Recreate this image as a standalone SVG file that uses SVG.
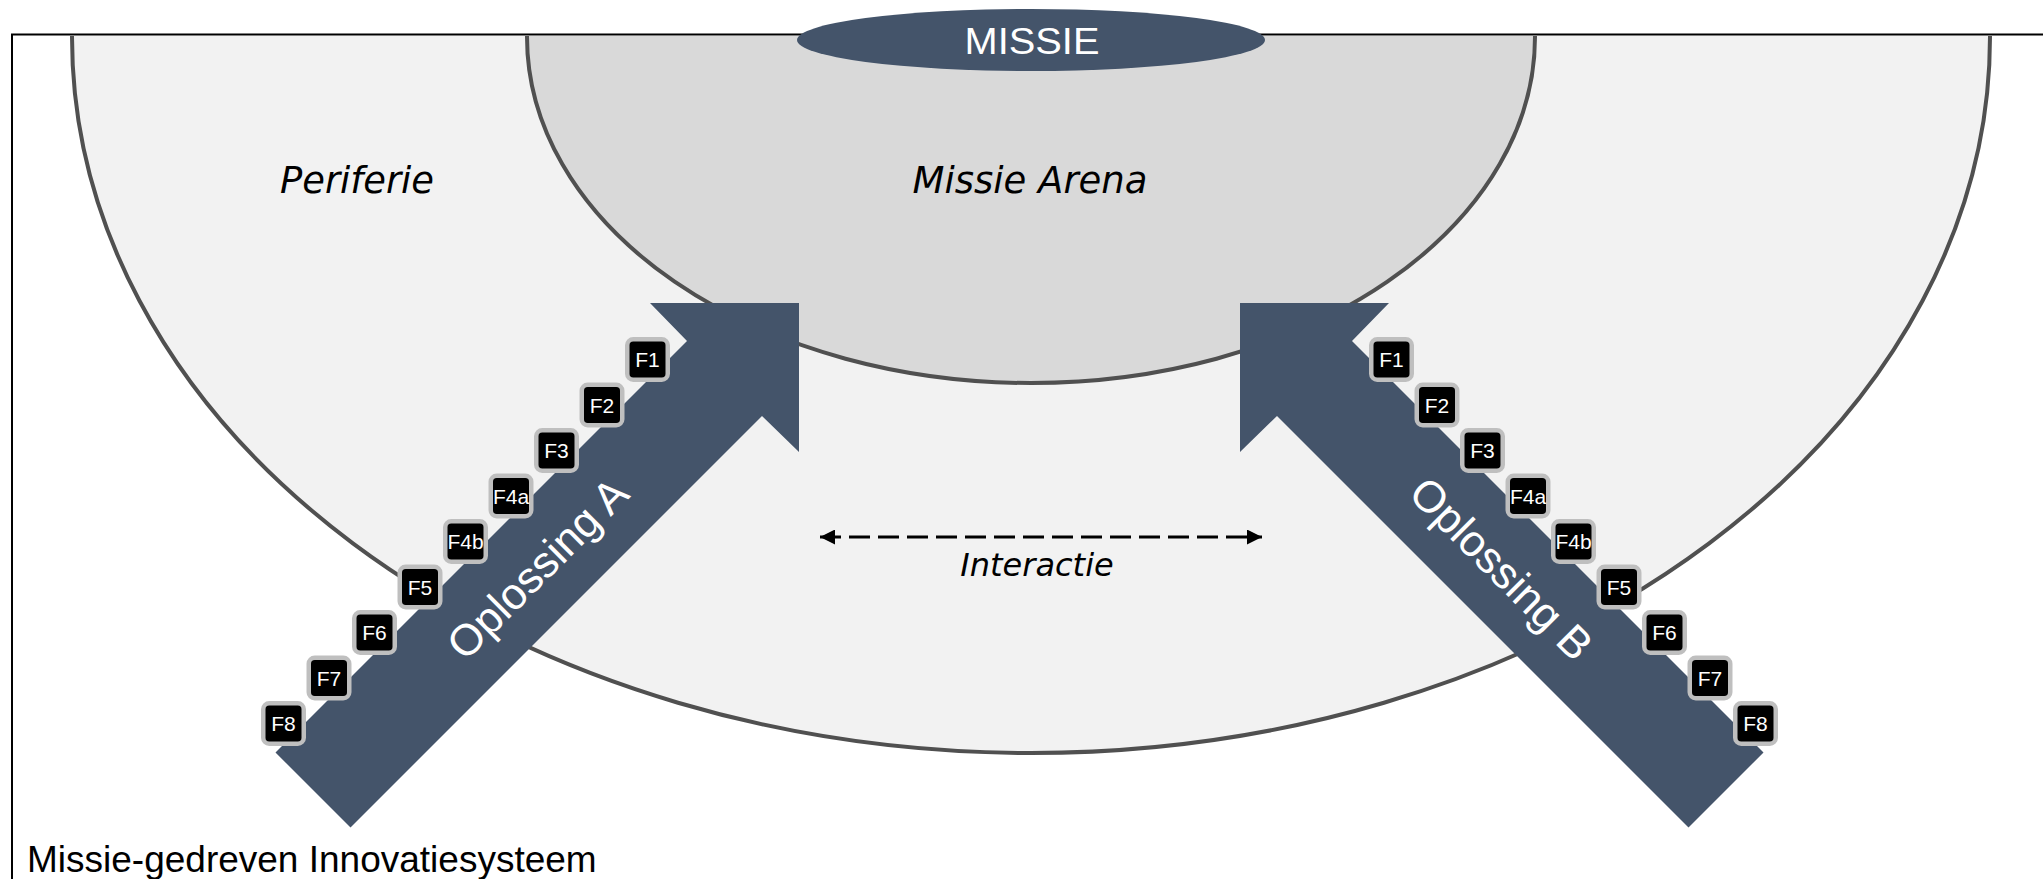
<svg xmlns="http://www.w3.org/2000/svg" width="2043" height="879" viewBox="0 0 2043 879">
  <defs>
    <clipPath id="belowTop">
      <rect x="0" y="36" width="2043" height="843"/>
    </clipPath>
    <marker id="ah" viewBox="0 0 15 15" refX="15" refY="7.5" markerWidth="15" markerHeight="15" markerUnits="userSpaceOnUse" orient="auto-start-reverse">
      <path d="M0,0 L15,7.5 L0,15 Z" fill="#000"/>
    </marker>
  </defs>
  <style>
    .ring { stroke: #505050; stroke-width: 4; }
    .arrow { fill: #44546a; }
    .fbox rect { fill: #000; stroke: #bfbfbf; stroke-width: 4.5; }
    .fbox text { fill: #fff; font-family: "Liberation Sans", Arial, sans-serif; font-size: 21px; text-anchor: middle; }
    .zone { font-family: "DejaVu Sans Condensed", "DejaVu Sans", sans-serif; font-style: italic; font-size: 38px; fill: #000; text-anchor: middle; }
    .sol { font-family: "Liberation Sans", Arial, sans-serif; font-size: 44px; fill: #fff; text-anchor: middle; }
  </style>
  <rect width="2043" height="879" fill="#fff"/>

  <g id="frame">
    <rect x="12" y="34.5" width="2100" height="900" fill="none" stroke="#000" stroke-width="2"/>
    <text x="27" y="872" font-family="'Liberation Sans', Arial, sans-serif" font-size="37" fill="#000">Missie-gedreven Innovatiesysteem</text>
  </g>

  <g id="periferie" clip-path="url(#belowTop)">
    <ellipse class="ring" cx="1031" cy="37" rx="959" ry="716" fill="#f2f2f2"/>
  </g>
  <text class="zone" x="357" y="193" textLength="154" lengthAdjust="spacingAndGlyphs">Periferie</text>

  <g id="arena" clip-path="url(#belowTop)">
    <ellipse class="ring" cx="1031" cy="37" rx="504" ry="346" fill="#d9d9d9"/>
  </g>
  <text class="zone" x="1030" y="193" textLength="235" lengthAdjust="spacingAndGlyphs">Missie Arena</text>

  <g id="missie">
    <ellipse cx="1031" cy="40" rx="234" ry="31" fill="#44546a"/>
    <text x="1032" y="54" font-family="'Liberation Sans', Arial, sans-serif" font-size="37" fill="#fff" text-anchor="middle" textLength="135" lengthAdjust="spacingAndGlyphs">MISSIE</text>
  </g>

  <g id="connectors">
    <line x1="820" y1="537" x2="1262" y2="537" stroke="#000" stroke-width="3" stroke-dasharray="21 8" marker-start="url(#ah)" marker-end="url(#ah)"/>
    <text x="1037" y="576" font-family="'DejaVu Sans', Verdana, sans-serif" font-style="italic" font-size="32" fill="#000" text-anchor="middle">Interactie</text>
  </g>

  <g id="oplossing-a">
    <path class="arrow" d="M799,303 L650,303 L687,341 L275.5,752.5 L350.5,827.5 L762,416 L799,452 Z"/>
    <text class="sol" transform="translate(537,568) rotate(-45)" x="0" y="16">Oplossing A</text>
    <g class="fbox">
      <rect x="627.25" y="339.25" width="40.5" height="40.5" rx="6"/><text x="647.5" y="367">F1</text>
      <rect x="581.75" y="384.75" width="40.5" height="40.5" rx="6"/><text x="602" y="412.5">F2</text>
      <rect x="536.25" y="430.25" width="40.5" height="40.5" rx="6"/><text x="556.5" y="458">F3</text>
      <rect x="490.75" y="475.75" width="40.5" height="40.5" rx="6"/><text x="511" y="503.5">F4a</text>
      <rect x="445.25" y="521.25" width="40.5" height="40.5" rx="6"/><text x="465.5" y="549">F4b</text>
      <rect x="399.75" y="566.75" width="40.5" height="40.5" rx="6"/><text x="420" y="594.5">F5</text>
      <rect x="354.25" y="612.25" width="40.5" height="40.5" rx="6"/><text x="374.5" y="640">F6</text>
      <rect x="308.75" y="657.75" width="40.5" height="40.5" rx="6"/><text x="329" y="685.5">F7</text>
      <rect x="263.25" y="703.25" width="40.5" height="40.5" rx="6"/><text x="283.5" y="731">F8</text>
    </g>
  </g>

  <g id="oplossing-b">
    <path class="arrow" d="M1240,303 L1389,303 L1352,341 L1763.5,752.5 L1688.5,827.5 L1277,416 L1240,452 Z"/>
    <text class="sol" transform="translate(1502,568) rotate(45)" x="0" y="16">Oplossing B</text>
    <g class="fbox">
      <rect x="1371.25" y="339.25" width="40.5" height="40.5" rx="6"/><text x="1391.5" y="367">F1</text>
      <rect x="1416.75" y="384.75" width="40.5" height="40.5" rx="6"/><text x="1437" y="412.5">F2</text>
      <rect x="1462.25" y="430.25" width="40.5" height="40.5" rx="6"/><text x="1482.5" y="458">F3</text>
      <rect x="1507.75" y="475.75" width="40.5" height="40.5" rx="6"/><text x="1528" y="503.5">F4a</text>
      <rect x="1553.25" y="521.25" width="40.5" height="40.5" rx="6"/><text x="1573.5" y="549">F4b</text>
      <rect x="1598.75" y="566.75" width="40.5" height="40.5" rx="6"/><text x="1619" y="594.5">F5</text>
      <rect x="1644.25" y="612.25" width="40.5" height="40.5" rx="6"/><text x="1664.5" y="640">F6</text>
      <rect x="1689.75" y="657.75" width="40.5" height="40.5" rx="6"/><text x="1710" y="685.5">F7</text>
      <rect x="1735.25" y="703.25" width="40.5" height="40.5" rx="6"/><text x="1755.5" y="731">F8</text>
    </g>
  </g>
</svg>
